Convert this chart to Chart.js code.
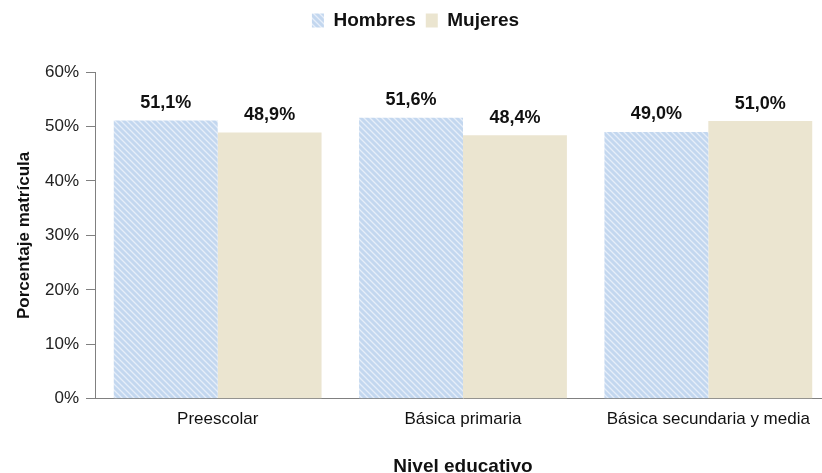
<!DOCTYPE html>
<html>
<head>
<meta charset="utf-8">
<script src="https://cdn.jsdelivr.net/npm/chart.js@4"></script>
<style>
html,body{margin:0;padding:0;background:#fff;overflow:hidden;}
#wrap{width:832px;height:473px;position:relative;}
</style>
</head>
<body>
<div id="wrap"><canvas id="c" width="832" height="473"></canvas></div>
<script>
const categories = ["Preescolar", "Básica primaria", "Básica secundaria y media"];
const hombres = [51.1, 51.6, 49.0];
const mujeres = [48.9, 48.4, 51.0];
const seriesNames = ["Hombres", "Mujeres"];
const yTicks = [0, 10, 20, 30, 40, 50, 60];

const FONT = '"Liberation Sans", Arial, sans-serif';

function hatch() {
  const s = 6;
  const c = document.createElement('canvas');
  c.width = s; c.height = s;
  const g = c.getContext('2d');
  g.fillStyle = '#c3d7ef';
  g.fillRect(0, 0, s, s);
  g.strokeStyle = '#e6eef9';
  g.lineWidth = 1.3;
  g.beginPath();
  g.moveTo(0, 0); g.lineTo(s, s);
  g.moveTo(-s, 0); g.lineTo(s, 2 * s);
  g.moveTo(0, -s); g.lineTo(2 * s, s);
  g.stroke();
  return g.createPattern(c, 'repeat');
}

const fmt = v => v.toFixed(1).replace('.', ',') + '%';

const valueLabels = {
  id: 'valueLabels',
  afterDatasetsDraw(chart) {
    const ctx = chart.ctx;
    ctx.save();
    ctx.font = 'bold 18px ' + FONT;
    ctx.fillStyle = '#111';
    ctx.textAlign = 'center';
    ctx.textBaseline = 'alphabetic';
    chart.data.datasets.forEach((ds, i) => {
      chart.getDatasetMeta(i).data.forEach((bar, j) => {
        ctx.fillText(fmt(ds.data[j]), bar.x, bar.y - 12.5);
      });
    });
    ctx.restore();
  }
};

const legendSpace = {
  id: 'legendSpace',
  beforeInit(chart) {
    const origFit = chart.legend.fit;
    chart.legend.fit = function () {
      origFit.bind(chart.legend)();
      this.height += 32;
    };
  }
};

const pat = hatch();

new Chart(document.getElementById('c'), {
  type: 'bar',
  data: {
    labels: categories,
    datasets: [
      { label: seriesNames[0], data: hombres, backgroundColor: pat, borderWidth: 0 },
      { label: seriesNames[1], data: mujeres, backgroundColor: '#ebe5d0', borderWidth: 0 }
    ]
  },
  options: {
    responsive: false,
    animation: false,
    devicePixelRatio: 1,
    layout: { padding: { top: 1, right: 1, bottom: 0, left: 0 } },
    datasets: { bar: { categoryPercentage: 0.847, barPercentage: 1.0 } },
    plugins: {
      tooltip: { enabled: false },
      legend: {
        position: 'top',
        labels: {
          boxWidth: 12, boxHeight: 14, padding: 10,
          color: '#111',
          font: { family: FONT, size: 19, weight: 'bold' }
        }
      }
    },
    scales: {
      x: {
        grid: { display: false, drawTicks: false },
        border: { display: true, color: '#808080', width: 1 },
        ticks: {
          padding: 10, color: '#111',
          font: { family: FONT, size: 17 }
        },
        title: {
          display: true, text: 'Nivel educativo', color: '#111',
          font: { family: FONT, size: 19, weight: 'bold' },
          padding: { top: 16, bottom: -5 }
        }
      },
      y: {
        min: 0, max: 60,
        afterFit(scale) { scale.width = 95; },
        afterBuildTicks(scale) { scale.ticks = yTicks.map(v => ({ value: v })); },
        grid: { display: true, drawOnChartArea: false, drawTicks: true, tickLength: 9, color: '#808080' },
        border: { display: true, color: '#808080', width: 1 },
        ticks: {
          padding: 7, color: '#222',
          font: { family: FONT, size: 17 },
          callback: v => v + '%'
        },
        title: {
          display: true, text: 'Porcentaje matrícula', color: '#111',
          font: { family: FONT, size: 17, weight: 'bold' },
          padding: { top: 14, bottom: 0 }
        }
      }
    }
  },
  plugins: [valueLabels, legendSpace]
});
</script>
</body>
</html>
